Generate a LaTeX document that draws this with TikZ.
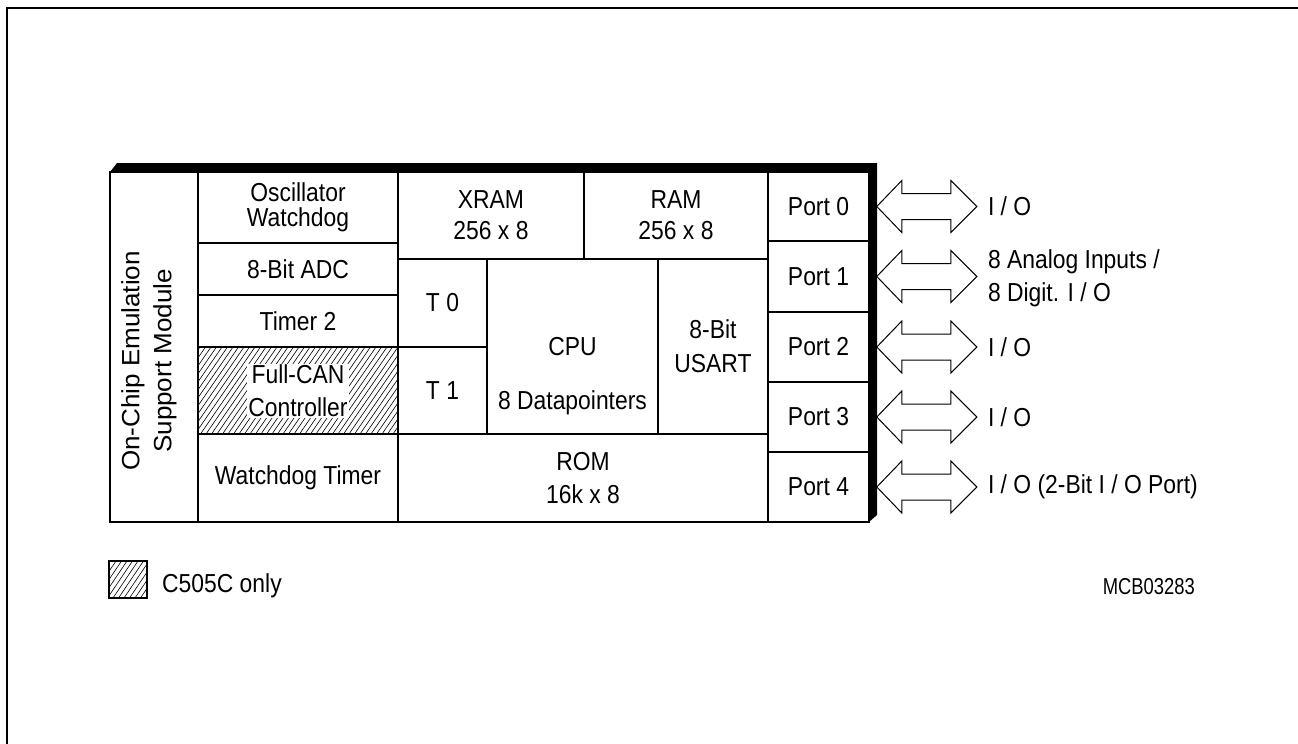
\documentclass[tikz,border=0pt]{standalone}
\usepackage{fontspec}
\setmainfont{Liberation Sans}[FakeStretch=0.88]
\newfontfamily\codefont{Liberation Sans}[FakeStretch=0.8]
\newfontfamily\widefont{Liberation Sans}[FakeStretch=1.04]
\begin{document}
\begin{tikzpicture}[x=1pt,y=-1pt,
  cell/.style={draw,line width=1.6pt,inner sep=0pt,align=center,font=\fontsize{26}{33}\selectfont},
  txt/.style={inner sep=0pt,align=center,font=\fontsize{26}{33}\selectfont},
  bigarrow/.style={draw,line width=1pt,fill=white},
  hatch/.style={line width=0.6pt}]
\useasboundingbox (0,0) rectangle (1298,744);
\draw[line width=1.5pt] (7,744) -- (7,8) -- (1298,8);

% hatching of Full-CAN cell
\begin{scope}
  \clip (198,347) rectangle (398,434);
  \foreach \i in {-80,-74.5,...,210} \draw[hatch] (198+\i,434) -- (258+\i,347);
\end{scope}

% cells
\node[cell,minimum width=88,minimum height=350] (emu) at (154,347) {};
\node[cell,minimum width=200,minimum height=71,font=\fontsize{26}{25}\selectfont] (osc) at (298,207.5) {Oscillator\\Watchdog};
\node[cell,minimum width=200,minimum height=52] (adc) at (298,269) {8-Bit ADC};
\node[cell,minimum width=200,minimum height=52] (tim2) at (298,321) {Timer 2};
\node[cell,minimum width=200,minimum height=87] (can) at (298,390.5) {};
\node[cell,minimum width=200,minimum height=88] (wdt) at (298,478) {Watchdog Timer};
\node[cell,minimum width=186,minimum height=87,font=\fontsize{26}{31}\selectfont] (xram) at (491,215.5) {XRAM\\256 x 8};
\node[cell,minimum width=184,minimum height=87,font=\fontsize{26}{31}\selectfont] (ram) at (676,215.5) {RAM\\256 x 8};
\node[cell,minimum width=89,minimum height=88] (t0) at (442.5,303) {T 0};
\node[cell,minimum width=89,minimum height=87] (t1) at (442.5,390.5) {T 1};
\node[cell,minimum width=171,minimum height=175] (cpu) at (572.5,346.5) {CPU};
\node[cell,minimum width=110,minimum height=175,font=\fontsize{26}{34}\selectfont] (usart) at (713,346.5) {8-Bit\\USART};
\node[cell,minimum width=370,minimum height=88,font=\fontsize{26}{33.5}\selectfont] (rom) at (583,478) {ROM\\16k x 8};
\node[cell,minimum width=101,minimum height=69] (p0) at (818.5,206.5) {Port 0};
\node[cell,minimum width=101,minimum height=71] (p1) at (818.5,276.5) {Port 1};
\node[cell,minimum width=101,minimum height=70] (p2) at (818.5,347) {Port 2};
\node[cell,minimum width=101,minimum height=70] (p3) at (818.5,417) {Port 3};
\node[cell,minimum width=101,minimum height=70] (p4) at (818.5,487) {Port 4};

% texts inside cells
\node[txt,font=\widefont\fontsize{25}{32}\selectfont,rotate=90] (emutxt) at (149,361) {On-Chip Emulation\\Support Module};
\node[txt,fill=white,inner xsep=1.5pt,inner ysep=1pt] (cantxt) at (298,391) {Full-CAN\\Controller};
\node[txt] (dptxt) at (572.5,403) {8 Datapointers};

% 3D black band
\fill (110,172) -- (117,163) -- (877,163) -- (877,515) -- (869,522) -- (869,172) -- cycle;

% arrows
\foreach \p in {p0,p1,p2,p3,p4}{
  \draw[bigarrow,shift={(\p.east)}] (7,0) -- (32,-26) -- (32,-13) -- (81,-13) -- (81,-26) -- (107,0) -- (81,26) -- (81,13) -- (32,13) -- (32,26) -- cycle;
}

% external labels
\node[txt,anchor=west] (io0) at ([xshift=118pt]p0.east) {I / O};
\node[txt,anchor=west,align=left,font=\fontsize{26}{32.5}\selectfont] (io1) at ([xshift=118pt,yshift=-2pt]p1.east) {8 Analog Inputs /\\8 Digit. I / O};
\node[txt,anchor=west] (io2) at ([xshift=118pt]p2.east) {I / O};
\node[txt,anchor=west] (io3) at ([xshift=118pt]p3.east) {I / O};
\node[txt,anchor=west] (io4) at ([xshift=118pt]p4.east) {I / O (2-Bit I / O Port)};

% legend
\begin{scope}
  \clip (109,561) rectangle (147,598);
  \foreach \i in {-40,-34.5,...,50} \draw[hatch] (109+\i,598) -- (134+\i,561);
\end{scope}
\node[draw,line width=1.3pt,minimum width=38,minimum height=37,inner sep=0pt] (leg) at (128,579.5) {};
\node[txt,anchor=west] (legtxt) at (162,586) {C505C only};
\node[inner sep=0pt,anchor=east,font=\codefont\fontsize{23}{24}\selectfont] (code) at (1195,587) {MCB03283};
\end{tikzpicture}
\end{document}
